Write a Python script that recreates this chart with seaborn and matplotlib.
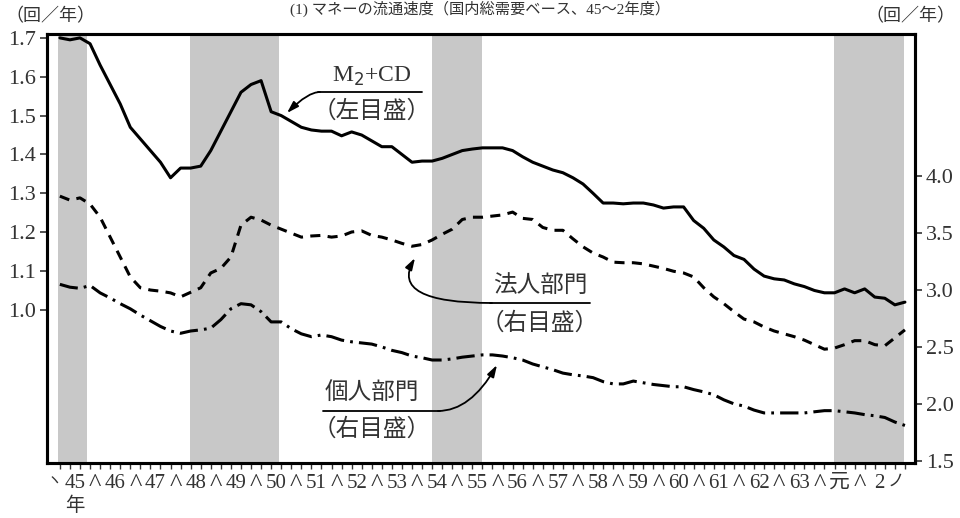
import matplotlib
matplotlib.use("Agg")
import matplotlib.pyplot as plt
import seaborn as sns
import numpy as np

# quarters from FY45 Q1 (index 0) to FY2 end (index 84)
years = ["45", "46", "47", "48", "49", "50", "51", "52", "53", "54", "55",
         "56", "57", "58", "59", "60", "61", "62", "63", "元", "2"]

# M2+CD velocity (left scale)
m2cd = [1.70, 1.695, 1.70, 1.685, 1.63, 1.58, 1.53, 1.47, 1.44, 1.41,
        1.38, 1.34, 1.365, 1.365, 1.37, 1.41, 1.46, 1.51, 1.56, 1.58,
        1.59, 1.51, 1.50, 1.485, 1.47, 1.463, 1.46, 1.46, 1.448, 1.458,
        1.45, 1.435, 1.42, 1.42, 1.40, 1.38, 1.383, 1.383, 1.39, 1.40,
        1.41, 1.414, 1.417, 1.417, 1.417, 1.41, 1.394, 1.38, 1.37, 1.36,
        1.353, 1.34, 1.324, 1.30, 1.275, 1.275, 1.273, 1.275, 1.275, 1.27,
        1.262, 1.265, 1.265, 1.23, 1.21, 1.18, 1.162, 1.14, 1.13, 1.105,
        1.087, 1.08, 1.077, 1.067, 1.06, 1.05, 1.044, 1.044, 1.054, 1.044,
        1.054, 1.033, 1.03, 1.013, 1.02]

# corporate sector (right scale)
corp = [3.825, 3.79, 3.81, 3.755, 3.64, 3.465, 3.29, 3.115, 3.02, 3.00,
        2.99, 2.975, 2.94, 2.98, 3.02, 3.15, 3.19, 3.29, 3.57, 3.64,
        3.615, 3.57, 3.535, 3.50, 3.465, 3.475, 3.48, 3.465, 3.475, 3.51,
        3.52, 3.48, 3.465, 3.44, 3.41, 3.385, 3.40, 3.44, 3.49, 3.535,
        3.62, 3.64, 3.64, 3.65, 3.66, 3.685, 3.63, 3.62, 3.55, 3.525,
        3.525, 3.45, 3.38, 3.325, 3.29, 3.245, 3.24, 3.24, 3.23, 3.21,
        3.19, 3.165, 3.15, 3.115, 3.02, 2.94, 2.88, 2.81, 2.745, 2.72,
        2.675, 2.64, 2.615, 2.59, 2.56, 2.52, 2.48, 2.49, 2.52, 2.555,
        2.555, 2.52, 2.51, 2.58, 2.65]

# household sector (right scale)
hh = [3.05, 3.025, 3.015, 3.04, 2.975, 2.93, 2.88, 2.835, 2.78, 2.73,
      2.68, 2.64, 2.62, 2.64, 2.65, 2.665, 2.74, 2.835, 2.88, 2.87,
      2.81, 2.72, 2.72, 2.66, 2.615, 2.59, 2.605, 2.59, 2.56, 2.545,
      2.535, 2.525, 2.50, 2.47, 2.45, 2.42, 2.405, 2.385, 2.385, 2.395,
      2.41, 2.42, 2.43, 2.43, 2.42, 2.405, 2.385, 2.35, 2.325, 2.30,
      2.27, 2.255, 2.245, 2.23, 2.195, 2.175, 2.175, 2.20, 2.185, 2.17,
      2.16, 2.15, 2.15, 2.125, 2.105, 2.08, 2.035, 2.00, 1.98, 1.945,
      1.92, 1.92, 1.92, 1.92, 1.92, 1.93, 1.94, 1.94, 1.93, 1.92,
      1.905, 1.895, 1.88, 1.84, 1.81]

# shaded (recession) periods in quarter units
shades = [(-0.2, 2.7), (12.9, 21.8), (37.0, 42.0), (76.9, 83.9)]

left_ticks = [1.0, 1.1, 1.2, 1.3, 1.4, 1.5, 1.6, 1.7]
right_ticks = [1.5, 2.0, 2.5, 3.0, 3.5, 4.0]

q = np.arange(len(m2cd))

sns.set_style("white")
plt.rcParams['font.family'] = ['Liberation Serif', 'Noto Sans CJK JP']
TXT = "#333333"

fig = plt.figure(figsize=(9.6, 5.18), dpi=100)
ax = fig.add_axes([47 / 960, 55 / 518, 868 / 960, 429 / 518])
ax2 = ax.twinx()

for a, b in shades:
    ax.axvspan(a, b, color="#c8c8c8", lw=0, zorder=0)

sns.lineplot(x=q, y=m2cd, ax=ax, color="black", lw=2.2, zorder=3)
sns.lineplot(x=q, y=corp, ax=ax2, color="black", lw=2.2,
             linestyle=(0, (3.3, 2.4)))
sns.lineplot(x=q, y=hh, ax=ax2, color="black", lw=2.2,
             linestyle=(0, (6.0, 2.0, 0.9, 2.0)))

ax.set_xlim(-1.28, 85.0)
ax.set_ylim(0.606, 1.710)
ax2.set_ylim(1.48, 5.25)

ax.set_yticks(left_ticks)
ax.set_yticklabels([f"{v:.1f}" for v in left_ticks])
ax2.set_yticks(right_ticks)
ax2.set_yticklabels([f"{v:.1f}" for v in right_ticks])

# year labels with separators between them
pos, labs = [], []
for i, y in enumerate(years):
    pos.append(4 * i + 1.5)
    labs.append(y)
    if i < len(years) - 1:
        pos.append(4 * i + 3.5)
        labs.append("^")
ax.set_xticks(pos)
ax.set_xticklabels(labs)
ax.set_xticks(np.arange(0, 85), minor=True)
ax.tick_params(axis="x", which="major", length=0, pad=8, labelsize=15, colors=TXT)
ax.tick_params(axis="x", which="minor", bottom=True, length=4, width=1, color=TXT)
for t in ax.get_xticklabels():
    if t.get_text() == "^":
        t.set_fontsize(19)
ax.tick_params(axis="y", left=True, length=5, width=1.2, labelsize=16, pad=3, colors=TXT)
ax2.tick_params(axis="y", right=True, length=5, width=1.2, labelsize=16, pad=3, colors=TXT)
ax.set_xlabel("")
ax.set_ylabel("")
ax2.set_ylabel("")

for a in (ax, ax2):
    for s in a.spines.values():
        s.set_visible(True)
        s.set_color("black")
        s.set_linewidth(2.2)

# extra bracket marks at the ends of the year axis
fig.text(54 / 960, 1 - 482 / 518, "ヽ", fontsize=11, ha="center", va="center", color=TXT)
fig.text(896 / 960, 1 - 482 / 518, "ノ", fontsize=12, ha="center", va="center", color=TXT)
fig.text(75 / 960, 1 - 506 / 518, "年", fontsize=14, ha="center", va="center", color=TXT)

# units
fig.text(5 / 960, 1 - 17 / 518, "（回／年）", fontsize=13, ha="left", va="center", color=TXT)
fig.text(955 / 960, 1 - 17 / 518, "（回／年）", fontsize=13, ha="right", va="center", color=TXT)

# title at the top edge
fig.text(480 / 960, 1 - 1 / 518, "(1) マネーの流通速度（国内総需要ベース、45～2年度）",
         fontsize=11, ha="center", va="top", color=TXT)

# series annotations
arrow = dict(arrowstyle="-|>,head_length=0.7,head_width=0.22", color="black",
             lw=1.3, shrinkA=0, shrinkB=0)

def fx(px):
    return (px - 47) / 868

def fy(py):
    return (463 - py) / 429

def label(text, sub, cx, ty, x0, x1, uy, by, start, end, angB):
    ax.text(fx(cx), fy(ty), text, transform=ax.transAxes, fontsize=17,
            ha="center", va="center", color=TXT, zorder=5)
    ax.text(fx(cx), fy(by), sub, transform=ax.transAxes, fontsize=17,
            ha="center", va="center", color=TXT, zorder=5)
    ax.plot([fx(x0), fx(x1)], [fy(uy), fy(uy)], transform=ax.transAxes,
            color="black", lw=1.3, zorder=5)
    ax.annotate("", xy=(fx(end[0]), fy(end[1])), xycoords="axes fraction",
                xytext=(fx(start[0]), fy(start[1])), textcoords="axes fraction",
                arrowprops=dict(arrow, connectionstyle=f"angle3,angleA=0,angleB={angB}"),
                zorder=5)

label("M$_2$+CD", "（左目盛）", 372, 76, 318, 422, 92, 111, (320, 92), (287, 113), 45)
label("法人部門", "（右目盛）", 540, 286, 490, 590, 303, 323, (492, 303), (415, 258), 60)
label("個人部門", "（右目盛）", 372, 393, 323, 440, 411, 429, (438, 411), (497, 365), 60)

fig.savefig("out.png", dpi=100)
